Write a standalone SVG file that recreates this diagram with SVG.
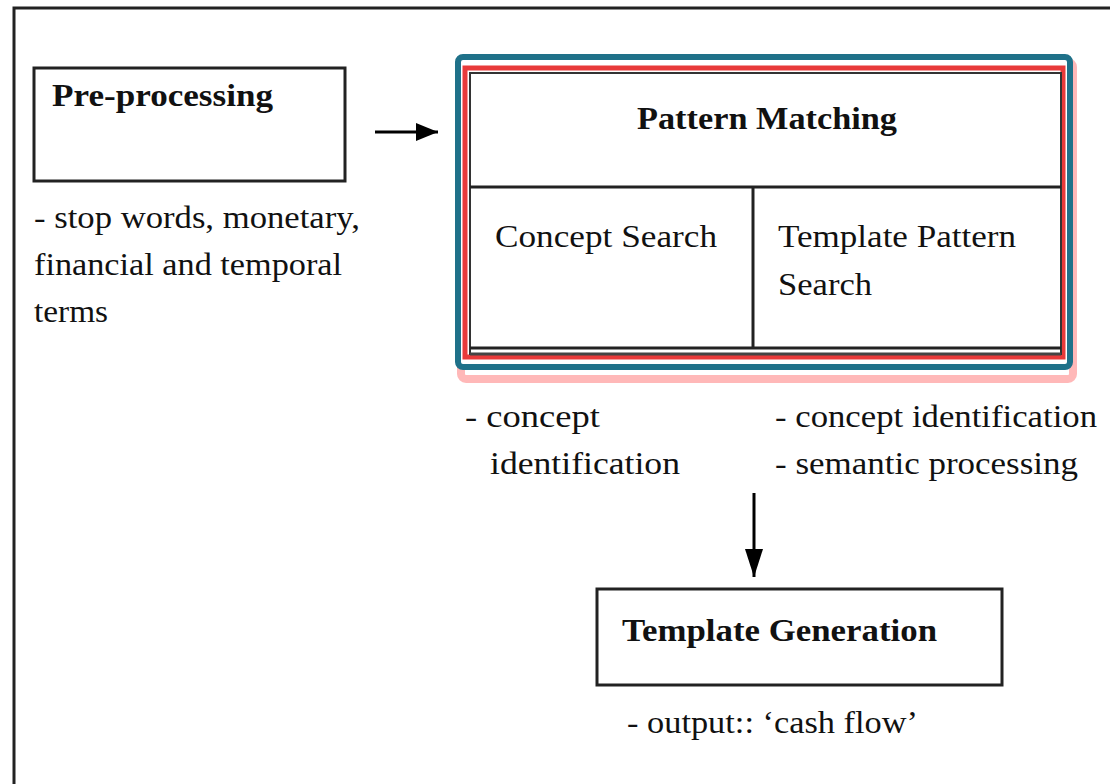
<svg xmlns="http://www.w3.org/2000/svg" width="1110" height="784" viewBox="0 0 1110 784">
<defs>
<style>
.t{font-family:"Liberation Serif","Times New Roman",serif;font-size:32px;fill:#111;}
.b{font-weight:bold;}
.box{fill:#fff;stroke:#222;stroke-width:3;}
.ln{stroke:#222;stroke-width:3;fill:none;}
</style>
<marker id="ah" viewBox="0 0 22 18" refX="22" refY="9" markerWidth="22" markerHeight="18" markerUnits="userSpaceOnUse" orient="auto">
<path d="M0,0 L22,9 L0,18 z" fill="#000"/>
</marker>
<marker id="ah2" viewBox="0 0 28 18" refX="28" refY="9" markerWidth="28" markerHeight="18" markerUnits="userSpaceOnUse" orient="auto">
<path d="M0,0 L28,9 L0,18 z" fill="#000"/>
</marker>
</defs>
<rect x="0" y="0" width="1110" height="784" fill="#fff"/>
<g id="frame">
<path d="M14,784 V8 H1110" fill="none" stroke="#222" stroke-width="3"/>
</g>
<g id="preprocessing">
<rect class="box" x="34" y="68" width="311" height="113"/>
<text class="t b" x="52" y="106" textLength="221" lengthAdjust="spacingAndGlyphs">Pre-processing</text>
<text class="t" x="34" y="228" textLength="326" lengthAdjust="spacingAndGlyphs">- stop words, monetary,</text>
<text class="t" x="34" y="275" textLength="308" lengthAdjust="spacingAndGlyphs">financial and temporal</text>
<text class="t" x="34" y="322" textLength="74" lengthAdjust="spacingAndGlyphs">terms</text>
</g>
<g id="pattern-matching">
<rect x="461" y="62" width="612" height="317" rx="5" fill="none" stroke="#ff9a9a" stroke-width="8" opacity="0.7"/>
<rect x="458" y="57" width="612" height="310" rx="5" fill="#fff" stroke="#1f7189" stroke-width="6"/>
<rect x="465" y="68" width="598" height="289" fill="none" stroke="#e83a3a" stroke-width="5"/>
<rect x="470" y="73" width="591" height="281" fill="#fff" stroke="#333" stroke-width="2"/>
<line class="ln" x1="470" y1="187" x2="1061" y2="187"/>
<line class="ln" x1="753" y1="187" x2="753" y2="348"/>
<line class="ln" x1="470" y1="348" x2="1061" y2="348"/>
<line x1="470" y1="354" x2="1061" y2="354" stroke="#444" stroke-width="3"/>
<text class="t b" x="637" y="129" textLength="260" lengthAdjust="spacingAndGlyphs">Pattern Matching</text>
<text class="t" x="495" y="247" textLength="222" lengthAdjust="spacingAndGlyphs">Concept Search</text>
<text class="t" x="778" y="247" textLength="238" lengthAdjust="spacingAndGlyphs">Template Pattern</text>
<text class="t" x="778" y="295" textLength="94" lengthAdjust="spacingAndGlyphs">Search</text>
</g>
<g id="pm-notes">
<text class="t" x="465" y="427" textLength="135" lengthAdjust="spacingAndGlyphs">- concept</text>
<text class="t" x="490" y="474" textLength="190" lengthAdjust="spacingAndGlyphs">identification</text>
<text class="t" x="775" y="427" textLength="322" lengthAdjust="spacingAndGlyphs">-  concept identification</text>
<text class="t" x="775" y="474" textLength="303" lengthAdjust="spacingAndGlyphs">- semantic processing</text>
</g>
<g id="template-generation">
<rect class="box" x="597" y="589" width="405" height="96"/>
<text class="t b" x="622" y="641" textLength="315" lengthAdjust="spacingAndGlyphs">Template Generation</text>
<text class="t" x="627" y="733" textLength="291" lengthAdjust="spacingAndGlyphs">- output:: ‘cash flow’</text>
</g>
<g id="connectors">
<line x1="375" y1="132" x2="438" y2="132" stroke="#000" stroke-width="3" marker-end="url(#ah)"/>
<line x1="754" y1="493" x2="754" y2="577" stroke="#000" stroke-width="3" marker-end="url(#ah2)"/>
</g>
</svg>
